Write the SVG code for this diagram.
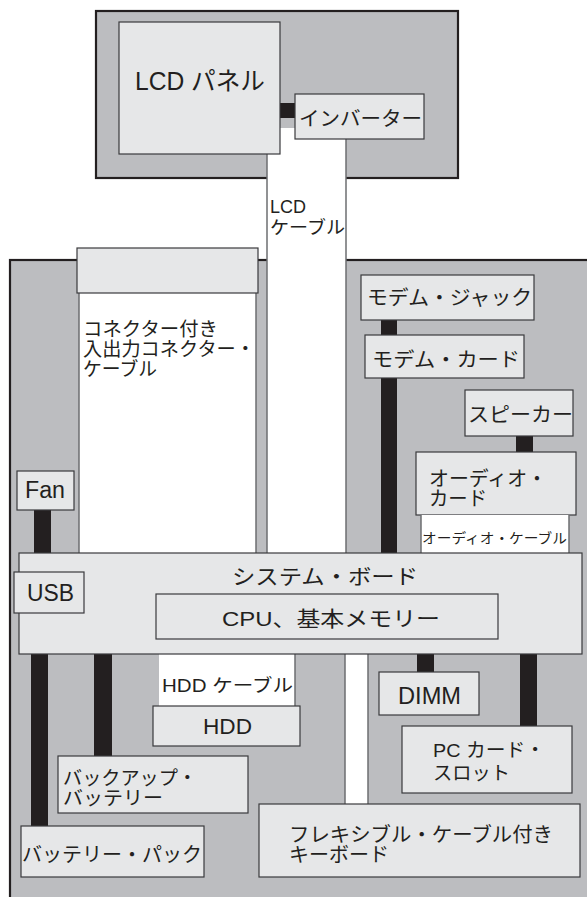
<svg xmlns="http://www.w3.org/2000/svg" width="587" height="897" viewBox="0 0 587 897">
<style>
.bg{fill:#bcbdc0;stroke:#231f20;stroke-width:2.2}
.box{fill:#e6e7e8;stroke:#3a3a3c;stroke-width:1.2}
.cable{fill:#ffffff;stroke:none}
.edge{stroke:#6d6e71;stroke-width:1.5;fill:none}
.bar{fill:#231f20}
text{font-family:"Liberation Sans","Noto Sans CJK JP",sans-serif;fill:#231f20}
</style>
<rect width="587" height="897" fill="#ffffff"/>
<g id="display-unit">
<rect class="bg" x="96" y="11" width="362" height="167"/>
</g>
<g id="base-unit">
<rect class="bg" x="10" y="260" width="600" height="660"/>
</g>
<g id="lcd-cable">
<rect class="cable" x="267" y="128" width="79" height="425"/>
<line class="edge" x1="267" y1="154" x2="267" y2="553"/>
<line class="edge" x1="346" y1="139" x2="346" y2="553"/>
<text x="270" y="213" font-size="18">LCD</text>
<text x="270" y="234" font-size="18" textLength="75" lengthAdjust="spacingAndGlyphs">ケーブル</text>
</g>
<g id="io-cable">
<rect class="cable" x="79" y="293" width="177" height="260"/>
<line class="edge" x1="79" y1="293" x2="79" y2="553"/>
<line class="edge" x1="256" y1="293" x2="256" y2="553"/>
<text x="83" y="336" font-size="19" textLength="135" lengthAdjust="spacingAndGlyphs">コネクター付き</text>
<text x="83" y="356" font-size="19" textLength="172" lengthAdjust="spacingAndGlyphs">入出力コネクター・</text>
<text x="83" y="376" font-size="19" textLength="74" lengthAdjust="spacingAndGlyphs">ケーブル</text>
</g>
<g id="io-connector">
<rect class="box" x="77" y="248" width="181" height="45" stroke="#6d6e71"/>
</g>
<g id="connectors">
<rect class="bar" x="280" y="103" width="15" height="15"/>
<rect class="bar" x="34" y="510" width="17" height="43"/>
<rect class="bar" x="381" y="320" width="16" height="233"/>
<rect class="bar" x="516" y="436" width="17" height="16"/>
<rect class="bar" x="31" y="654" width="17" height="172"/>
<rect class="bar" x="94" y="654" width="18" height="102"/>
<rect class="bar" x="417" y="654" width="17" height="18"/>
<rect class="bar" x="520" y="654" width="17" height="72"/>
</g>
<g id="lcd-panel">
<rect class="box" x="119" y="22" width="161" height="132"/>
<text x="135" y="90" font-size="25" textLength="130" lengthAdjust="spacingAndGlyphs">LCD パネル</text>
</g>
<g id="inverter">
<rect class="box" x="295" y="94" width="129" height="45"/>
<text x="299" y="126" font-size="20" textLength="123" lengthAdjust="spacingAndGlyphs">インバーター</text>
</g>
<g id="fan">
<rect class="box" x="17" y="471" width="57" height="39"/>
<text x="25" y="498" font-size="23" textLength="40" lengthAdjust="spacingAndGlyphs">Fan</text>
</g>
<g id="modem-jack">
<rect class="box" x="361" y="275" width="173" height="45"/>
<text x="367" y="305" font-size="20" textLength="165" lengthAdjust="spacingAndGlyphs">モデム・ジャック</text>
</g>
<g id="modem-card">
<rect class="box" x="365" y="335" width="159" height="43"/>
<text x="372" y="367" font-size="20" textLength="148" lengthAdjust="spacingAndGlyphs">モデム・カード</text>
</g>
<g id="speaker">
<rect class="box" x="465" y="390" width="108" height="46"/>
<text x="468" y="422" font-size="20" textLength="105" lengthAdjust="spacingAndGlyphs">スピーカー</text>
</g>
<g id="audio-card">
<rect class="box" x="416" y="452" width="160" height="63"/>
<text x="429" y="486" font-size="20" textLength="118" lengthAdjust="spacingAndGlyphs">オーディオ・</text>
<text x="429" y="506" font-size="20" textLength="58" lengthAdjust="spacingAndGlyphs">カード</text>
</g>
<g id="audio-cable">
<rect class="cable" x="421" y="515" width="148" height="38"/>
<line class="edge" x1="421" y1="515" x2="421" y2="553"/>
<line class="edge" x1="569" y1="515" x2="569" y2="553"/>
<text x="422" y="543" font-size="14" textLength="145" lengthAdjust="spacingAndGlyphs">オーディオ・ケーブル</text>
</g>
<g id="hdd-cable">
<rect class="cable" x="159" y="654" width="136" height="52"/>
<line class="edge" x1="295" y1="654" x2="295" y2="706"/>
<text x="162" y="692" font-size="18" textLength="131" lengthAdjust="spacingAndGlyphs">HDD ケーブル</text>
</g>
<g id="keyboard-cable">
<rect class="cable" x="345" y="654" width="23" height="150"/>
<line class="edge" x1="345" y1="654" x2="345" y2="804"/>
<line class="edge" x1="368" y1="654" x2="368" y2="804"/>
</g>
<g id="system-board">
<rect class="box" x="19" y="553" width="563" height="101"/>
<text x="232" y="584" font-size="21" textLength="186" lengthAdjust="spacingAndGlyphs">システム・ボード</text>
</g>
<g id="usb">
<rect class="box" x="14" y="572" width="70" height="41"/>
<text x="27" y="601" font-size="23" textLength="47" lengthAdjust="spacingAndGlyphs">USB</text>
</g>
<g id="cpu">
<rect class="box" x="156" y="594" width="342" height="45"/>
<text x="222" y="626" font-size="21" textLength="218" lengthAdjust="spacingAndGlyphs">CPU、基本メモリー</text>
</g>
<g id="hdd">
<rect class="box" x="153" y="706" width="147" height="40"/>
<text x="203" y="734" font-size="22" textLength="49" lengthAdjust="spacingAndGlyphs">HDD</text>
</g>
<g id="dimm">
<rect class="box" x="379" y="672" width="100" height="43"/>
<text x="398" y="704" font-size="23" textLength="63" lengthAdjust="spacingAndGlyphs">DIMM</text>
</g>
<g id="pc-card-slot">
<rect class="box" x="402" y="726" width="170" height="67"/>
<text x="433" y="757" font-size="19" textLength="112" lengthAdjust="spacingAndGlyphs">PC カード・</text>
<text x="433" y="780" font-size="19" textLength="77" lengthAdjust="spacingAndGlyphs">スロット</text>
</g>
<g id="backup-battery">
<rect class="box" x="58" y="756" width="190" height="57"/>
<text x="63" y="785" font-size="19" textLength="134" lengthAdjust="spacingAndGlyphs">バックアップ・</text>
<text x="63" y="805" font-size="19" textLength="100" lengthAdjust="spacingAndGlyphs">バッテリー</text>
</g>
<g id="battery-pack">
<rect class="box" x="21" y="826" width="183" height="51"/>
<text x="22" y="862" font-size="20" textLength="180" lengthAdjust="spacingAndGlyphs">バッテリー・パック</text>
</g>
<g id="keyboard">
<rect class="box" x="259" y="804" width="321" height="73"/>
<text x="289" y="842" font-size="20" textLength="264" lengthAdjust="spacingAndGlyphs">フレキシブル・ケーブル付き</text>
<text x="289" y="862" font-size="20" textLength="100" lengthAdjust="spacingAndGlyphs">キーボード</text>
</g>
</svg>
